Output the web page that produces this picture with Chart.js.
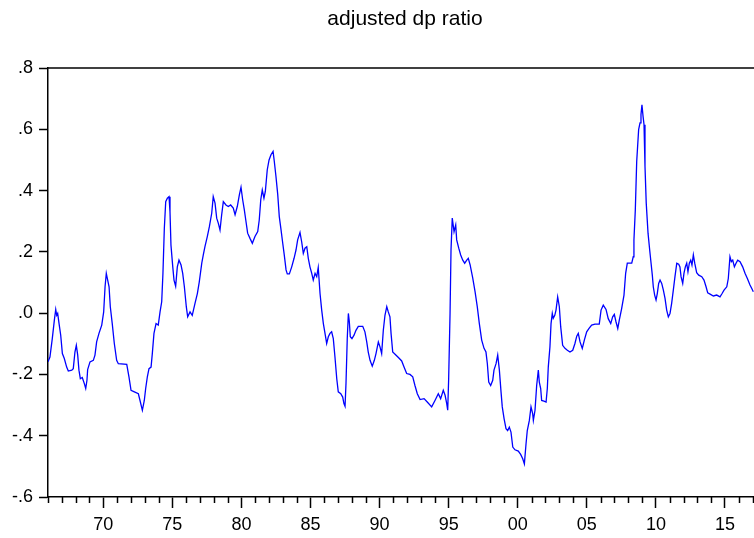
<!DOCTYPE html>
<html>
<head>
<meta charset="utf-8">
<script src="https://cdn.jsdelivr.net/npm/chart.js@4.4.1/dist/chart.umd.min.js"></script>
<style>
html,body{margin:0;padding:0;background:#fff;}
#wrap{width:754px;height:538px;}
</style>
</head>
<body>
<div id="wrap"><canvas id="c" width="754" height="538"></canvas></div>
<script>
const titleText = 'adjusted dp ratio';
const xTickYears = [1970,1975,1980,1985,1990,1995,2000,2005,2010,2015];
const xTickLabels = ['70','75','80','85','90','95','00','05','10','15'];
const yTicks = [-0.6,-0.4,-0.2,0.0,0.2,0.4,0.6,0.8];
const yTickLabels = ['-.6','-.4','-.2','.0','.2','.4','.6','.8'];

const dates = [
1966.00,1966.14,1966.31,1966.46,1966.56,1966.63,1966.70,1966.80,1966.92,1967.04,1967.18,1967.35,1967.47,1967.72,1967.83,1967.95,
1968.05,1968.15,1968.24,1968.34,1968.48,1968.63,1968.73,1968.82,1968.87,1969.04,1969.28,1969.40,1969.52,1969.69,1969.89,
1970.03,1970.13,1970.22,1970.32,1970.42,1970.51,1970.65,1970.80,1970.97,1971.09,1971.70,1971.86,1972.01,1972.25,1972.54,1972.66,1972.83,1972.97,
1973.07,1973.19,1973.31,1973.46,1973.55,1973.67,1973.82,1973.98,1974.11,1974.23,1974.32,1974.42,1974.52,1974.64,1974.76,1974.83,1974.90,
1975.03,1975.12,1975.24,1975.36,1975.48,1975.63,1975.75,1975.87,1976.01,1976.11,1976.28,1976.44,1976.64,1976.81,1976.95,
1977.13,1977.24,1977.36,1977.53,1977.68,1977.85,1977.96,1978.09,1978.21,1978.33,1978.45,1978.57,1978.69,1978.88,
1979.05,1979.22,1979.41,1979.54,1979.70,1979.85,1979.97,1980.09,1980.21,1980.33,1980.45,1980.62,1980.79,1980.98,
1981.18,1981.29,1981.40,1981.51,1981.63,1981.73,1981.87,1982.00,1982.14,1982.29,1982.38,1982.50,1982.63,1982.74,1982.87,1982.99,
1983.10,1983.23,1983.32,1983.47,1983.64,1983.81,1983.95,1984.07,1984.24,1984.36,1984.48,1984.60,1984.73,1984.84,1984.96,
1985.09,1985.20,1985.33,1985.45,1985.56,1985.69,1985.81,1985.93,1986.05,1986.17,1986.29,1986.41,1986.53,1986.65,1986.77,1986.90,
1987.01,1987.19,1987.33,1987.42,1987.50,1987.57,1987.66,1987.74,1987.81,1987.88,1988.00,1988.15,1988.29,1988.46,1988.78,1988.94,
1989.07,1989.18,1989.31,1989.47,1989.62,1989.74,1989.91,1990.03,1990.15,1990.27,1990.39,1990.52,1990.63,1990.75,1990.83,1990.95,
1991.12,1991.36,1991.60,1991.77,1991.96,1992.20,1992.40,1992.56,1992.73,1992.93,1993.22,1993.45,1993.77,1994.01,1994.25,1994.42,1994.61,1994.74,1994.86,1994.93,
1995.00,1995.10,1995.17,1995.26,1995.39,1995.51,1995.58,1995.73,1995.87,1996.02,1996.16,1996.31,1996.42,1996.55,1996.74,1996.91,
1997.07,1997.22,1997.39,1997.56,1997.70,1997.80,1997.90,1998.04,1998.19,1998.28,1998.43,1998.55,1998.67,1998.79,1998.88,
1999.01,1999.15,1999.27,1999.39,1999.51,1999.64,1999.80,2000.04,2000.21,2000.36,2000.48,2000.60,2000.69,2000.84,2000.96,
2001.08,2001.13,2001.25,2001.37,2001.49,2001.56,2001.66,2001.73,2001.90,2002.05,2002.14,2002.21,2002.33,2002.41,2002.50,2002.57,2002.68,2002.77,2002.89,
2003.01,2003.11,2003.25,2003.42,2003.59,2003.78,2003.98,2004.14,2004.27,2004.38,2004.51,2004.67,2004.82,2004.99,
2005.16,2005.35,2005.59,2005.90,2006.03,2006.19,2006.39,2006.55,2006.73,2006.87,2006.99,2007.11,2007.24,2007.35,2007.52,2007.69,2007.81,2007.93,
2008.25,2008.36,2008.41,2008.51,2008.61,2008.75,2008.85,2008.92,2008.99,2009.07,2009.14,2009.21,2009.30,2009.43,2009.55,2009.65,2009.74,2009.81,2009.91,
2010.01,2010.10,2010.20,2010.30,2010.42,2010.54,2010.66,2010.78,2010.90,2011.02,2011.14,2011.26,2011.38,2011.51,2011.65,2011.74,2011.82,2011.94,
2012.03,2012.13,2012.23,2012.32,2012.42,2012.52,2012.61,2012.71,2012.81,2012.95,2013.10,2013.32,2013.48,2013.63,2013.75,2013.92,
2014.16,2014.40,2014.64,2014.79,2014.93,2015.13,2015.24,2015.36,2015.46,2015.56,2015.68,2015.80,2015.92,2016.09,2016.28,2016.45,2016.62,2016.81,2016.93,2017.05
];

const dpRatio = [
-0.159,-0.143,-0.083,-0.023,0.012,-0.007,-0.001,-0.034,-0.072,-0.132,-0.148,-0.176,-0.189,-0.186,-0.181,-0.127,
-0.105,-0.137,-0.186,-0.214,-0.210,-0.230,-0.246,-0.219,-0.184,-0.159,-0.154,-0.137,-0.094,-0.066,-0.039,
0.004,0.086,0.130,0.108,0.086,0.021,-0.034,-0.099,-0.154,-0.165,-0.167,-0.208,-0.252,-0.257,-0.263,-0.285,-0.317,-0.285,
-0.246,-0.208,-0.181,-0.176,-0.132,-0.066,-0.034,-0.039,0.004,0.037,0.130,0.277,0.364,0.375,0.380,0.331,0.222,
0.151,0.108,0.088,0.151,0.173,0.157,0.130,0.086,0.021,-0.012,0.004,-0.007,0.032,0.064,0.102,
0.163,0.190,0.217,0.250,0.282,0.326,0.380,0.359,0.310,0.293,0.271,0.321,0.364,0.353,
0.348,0.353,0.343,0.321,0.348,0.386,0.411,0.370,0.337,0.299,0.261,0.244,0.228,0.250,
0.266,0.304,0.370,0.402,0.375,0.397,0.468,0.500,0.517,0.528,0.495,0.446,0.386,0.315,0.271,0.228,
0.190,0.141,0.128,0.128,0.151,0.179,0.206,0.239,0.263,0.233,0.195,0.212,0.217,0.179,0.151,
0.130,0.108,0.130,0.119,0.149,0.064,0.010,-0.034,-0.066,-0.099,-0.077,-0.066,-0.061,-0.083,-0.143,-0.214,
-0.257,-0.263,-0.274,-0.295,-0.304,-0.228,-0.083,-0.001,-0.028,-0.077,-0.083,-0.072,-0.056,-0.043,-0.043,-0.061,
-0.094,-0.127,-0.154,-0.173,-0.154,-0.132,-0.094,-0.110,-0.132,-0.056,-0.007,0.021,0.004,-0.012,-0.066,-0.127,
-0.134,-0.145,-0.156,-0.176,-0.197,-0.200,-0.208,-0.236,-0.263,-0.282,-0.279,-0.290,-0.306,-0.285,-0.263,-0.279,-0.252,-0.268,-0.295,-0.317,
-0.214,-0.001,0.206,0.310,0.266,0.288,0.239,0.212,0.190,0.173,0.163,0.173,0.179,0.158,0.115,0.070,
0.021,-0.034,-0.088,-0.115,-0.127,-0.165,-0.225,-0.236,-0.219,-0.186,-0.165,-0.137,-0.186,-0.257,-0.306,
-0.344,-0.377,-0.383,-0.372,-0.388,-0.437,-0.446,-0.450,-0.461,-0.475,-0.492,-0.426,-0.383,-0.350,-0.306,
-0.328,-0.350,-0.317,-0.236,-0.186,-0.225,-0.246,-0.285,-0.287,-0.290,-0.246,-0.176,-0.110,-0.034,-0.001,-0.017,-0.007,0.010,0.053,
0.021,-0.045,-0.105,-0.115,-0.121,-0.127,-0.121,-0.099,-0.075,-0.066,-0.094,-0.115,-0.088,-0.061,
-0.050,-0.039,-0.036,-0.036,0.010,0.026,0.012,-0.018,-0.034,-0.012,-0.004,-0.028,-0.050,-0.023,0.015,0.059,0.130,0.163,
0.163,0.184,0.239,0.337,0.495,0.599,0.621,0.648,0.680,0.642,0.615,0.479,0.359,0.261,0.206,0.163,0.124,0.086,0.059,
0.043,0.064,0.097,0.108,0.097,0.075,0.048,0.010,-0.012,-0.001,0.032,0.075,0.119,0.163,0.160,0.151,0.119,0.097,
0.130,0.151,0.163,0.135,0.163,0.173,0.157,0.190,0.163,0.132,0.124,0.119,0.108,0.086,0.066,0.062,
0.056,0.059,0.053,0.064,0.075,0.086,0.113,0.184,0.168,0.173,0.151,0.163,0.173,0.168,0.151,0.130,0.113,0.092,0.081,0.070
];

const FONT = '"Liberation Sans", Arial, sans-serif';
const AXIS_COLOR = '#000000';

const frameAndTitle = {
  id: 'frameAndTitle',
  afterDraw(chart) {
    const ctx = chart.ctx;
    const a = chart.chartArea;
    const xs = chart.scales.x;
    ctx.save();
    ctx.strokeStyle = AXIS_COLOR;
    ctx.lineWidth = 1.5;
    ctx.beginPath();
    ctx.moveTo(a.left, a.top);
    ctx.lineTo(a.right, a.top);
    ctx.stroke();
    for (let yr = Math.ceil(xs.min); yr <= Math.floor(xs.max); yr++) {
      if (xTickYears.indexOf(yr) !== -1) continue;
      const px = Math.round(xs.getPixelForValue(yr)) + 0.5;
      ctx.beginPath();
      ctx.moveTo(px, a.bottom);
      ctx.lineTo(px, a.bottom + 6);
      ctx.stroke();
    }
    ctx.fillStyle = '#000';
    ctx.font = '21px ' + FONT;
    ctx.textAlign = 'center';
    ctx.textBaseline = 'middle';
    ctx.fillText(titleText, 405, 19);
    ctx.restore();
  }
};

new Chart(document.getElementById('c'), {
  type: 'line',
  data: {
    datasets: [{
      label: titleText,
      data: dates.map((d, i) => ({x: d, y: dpRatio[i]})),
      borderColor: '#0000FF',
      borderWidth: 1.3,
      pointRadius: 0,
      tension: 0,
      fill: false
    }]
  },
  options: {
    responsive: false,
    animation: false,
    layout: { padding: { top: 68, right: 0, bottom: 0, left: 0 } },
    plugins: { legend: { display: false }, title: { display: false }, tooltip: { enabled: false } },
    scales: {
      x: {
        type: 'linear',
        min: 1966,
        max: 2017.1,
        afterBuildTicks: s => { s.ticks = xTickYears.map(v => ({value: v})); },
        afterFit: s => { s.height = 41; },
        ticks: {
          callback: v => xTickLabels[xTickYears.indexOf(v)],
          font: { family: FONT, size: 18 },
          color: '#000',
          padding: 6,
          maxRotation: 0,
          autoSkip: false
        },
        grid: { drawOnChartArea: false, drawTicks: true, tickLength: 11, tickColor: AXIS_COLOR, tickWidth: 1.5 },
        border: { display: true, color: AXIS_COLOR, width: 1.5 }
      },
      y: {
        type: 'linear',
        min: -0.6,
        max: 0.8,
        afterBuildTicks: s => { s.ticks = yTicks.map(v => ({value: v})); },
        afterFit: s => { s.width = 48; },
        ticks: {
          callback: v => yTickLabels[yTicks.indexOf(v)],
          font: { family: FONT, size: 18 },
          color: '#000',
          padding: 6,
          autoSkip: false
        },
        grid: { drawOnChartArea: false, drawTicks: true, tickLength: 9, tickColor: AXIS_COLOR, tickWidth: 1.5 },
        border: { display: true, color: AXIS_COLOR, width: 1.5 }
      }
    }
  },
  plugins: [frameAndTitle]
});
</script>
</body>
</html>
